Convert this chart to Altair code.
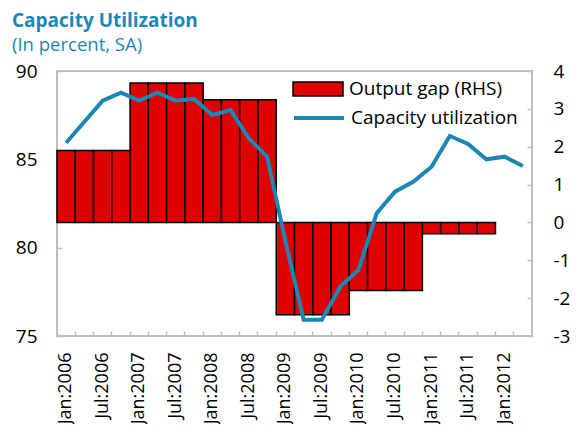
import altair as alt
import pandas as pd

quarters = [
    "Jan:2006", "Apr:2006", "Jul:2006", "Oct:2006",
    "Jan:2007", "Apr:2007", "Jul:2007", "Oct:2007",
    "Jan:2008", "Apr:2008", "Jul:2008", "Oct:2008",
    "Jan:2009", "Apr:2009", "Jul:2009", "Oct:2009",
    "Jan:2010", "Apr:2010", "Jul:2010", "Oct:2010",
    "Jan:2011", "Apr:2011", "Jul:2011", "Oct:2011",
    "Jan:2012", "Apr:2012",
]
output_gap = [
    1.90, 1.90, 1.90, 1.90,
    3.68, 3.68, 3.68, 3.68,
    3.24, 3.24, 3.24, 3.24,
    -2.44, -2.44, -2.44, -2.44,
    -1.80, -1.80, -1.80, -1.80,
    -0.30, -0.30, -0.30, -0.30,
    None, None,
]
capacity_util = [
    85.94, 87.13, 88.32, 88.77,
    88.32, 88.77, 88.32, 88.42,
    87.51, 87.79, 86.19, 85.15,
    80.37, 75.92, 75.92, 77.79,
    78.74, 81.95, 83.17, 83.73,
    84.58, 86.32, 85.87, 85.00,
    85.15, 84.62,
]
left_ticks = [75, 80, 85, 90]
right_ticks = [-3, -2, -1, 0, 1, 2, 3, 4]

df = pd.DataFrame({"q": quarters, "gap": output_gap, "cu": capacity_util})

W, H = 475, 265
FONT = "Open Sans"
BLUE = "#1a87b5"
GRAY = "#bfbfbf"

x_scale = alt.Scale(domain=quarters, paddingInner=0, paddingOuter=0)
y_left = alt.Scale(domain=[75, 90], nice=False, zero=False)
y_right = alt.Scale(domain=[-3, 4], nice=False, zero=False)

label_expr = "indexof(datum.label, 'Apr') >= 0 || indexof(datum.label, 'Oct') >= 0 ? '' : datum.label"

base = alt.Chart(df)

bars = base.transform_calculate(gs="'Output gap (RHS)'").mark_bar(
    stroke="black", strokeWidth=1.5
).encode(
    x=alt.X("q:N", sort=quarters, scale=x_scale, title=None,
            axis=alt.Axis(orient="bottom", ticks=False, tickSize=0, domain=False,
                          labelAngle=270, labelAlign="right", labelBaseline="middle",
                          labelFontSize=18, labelPadding=16, labelExpr=label_expr,
                          labelOverlap=False)),
    y=alt.Y("gap:Q", scale=y_right, title=None,
            axis=alt.Axis(orient="right", values=right_ticks, ticks=False, tickSize=0,
                          domain=False, grid=False, labelFontSize=19, labelPadding=21,
                          labelExpr="toString(datum.value)")),
    fill=alt.Fill("gs:N", scale=alt.Scale(range=["#e00000"]), title=None,
                  legend=alt.Legend(orient="none", legendX=235, legendY=-8,
                                    symbolType="M-1,-0.28H1V0.28H-1Z", symbolSize=2500,
                                    symbolStrokeColor="black", symbolStrokeWidth=1.5,
                                    labelFontSize=19, labelFont=FONT, labelColor="black",
                                    labelOffset=5, labelLimit=400)),
)

line = base.transform_calculate(ls="'Capacity utilization'").mark_line(
    strokeWidth=4
).encode(
    x=alt.X("q:N", sort=quarters, scale=x_scale, title=None,
            axis=alt.Axis(orient="top", offset=-H, labels=False, domain=False,
                          ticks=True, tickSize=5, tickColor=GRAY, tickWidth=1.5,
                          bandPosition=0, grid=False)),
    y=alt.Y("cu:Q", scale=y_left, title=None,
            axis=alt.Axis(orient="left", values=left_ticks, ticks=False, tickSize=0,
                          domain=False, grid=False, labelFontSize=19, labelPadding=20)),
    stroke=alt.Stroke("ls:N", scale=alt.Scale(range=[BLUE]), title=None,
                      legend=alt.Legend(orient="none", legendX=235, legendY=20,
                                        symbolType="stroke", symbolSize=2500,
                                        symbolStrokeWidth=4,
                                        labelFontSize=19, labelFont=FONT, labelColor="black",
                                        labelOffset=5, labelLimit=400)),
)

tick_left = base.mark_point(opacity=0).encode(
    x=alt.X("q:N", sort=quarters, scale=x_scale, axis=None),
    y=alt.Y("cu:Q", scale=y_left, title=None,
            axis=alt.Axis(orient="right", offset=-W, values=left_ticks, labels=False,
                          domain=False, ticks=True, tickSize=5, tickColor=GRAY,
                          tickWidth=1.5, grid=False)),
)

tick_right = base.mark_point(opacity=0).encode(
    x=alt.X("q:N", sort=quarters, scale=x_scale, axis=None),
    y=alt.Y("gap:Q", scale=y_right, title=None,
            axis=alt.Axis(orient="left", offset=-W, values=right_ticks, labels=False,
                          domain=False, ticks=True, tickSize=5, tickColor=GRAY,
                          tickWidth=1.5, grid=False)),
)

chart = alt.layer(bars, line, tick_left, tick_right).resolve_scale(
    y="independent", fill="independent", stroke="independent"
).resolve_axis(
    x="independent", y="independent"
).properties(
    width=W, height=H,
    autosize=alt.AutoSizeParams(type="none"),
    padding={"left": 49, "top": 63, "right": 48, "bottom": 88},
    title=alt.TitleParams(
        "Capacity Utilization", subtitle="(In percent, SA)", anchor="start",
        frame="group", dx=-45, offset=8, color=BLUE, font=FONT, fontSize=19,
        fontWeight="bold", subtitleFont=FONT, subtitleFontSize=18.5,
        subtitleColor=BLUE, subtitlePadding=5,
    ),
).configure_view(
    stroke=GRAY, strokeWidth=2
).configure_axis(
    labelFont=FONT, labelColor="black"
)

chart.save("out.html", embed_options={"renderer": "svg", "actions": False})
